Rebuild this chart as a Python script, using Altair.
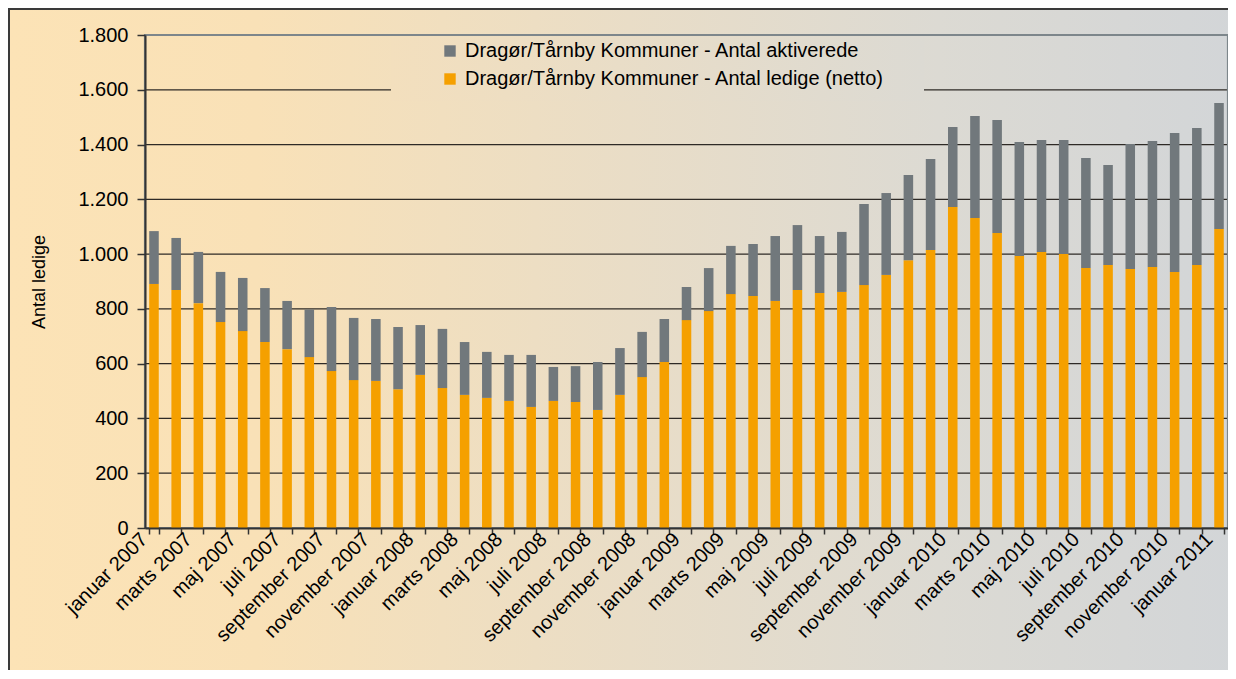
import altair as alt
import pandas as pd

# ---- data ----
months_da = ["januar", "februar", "marts", "april", "maj", "juni", "juli",
             "august", "september", "oktober", "november", "december"]
categories = [f"{months_da[i % 12]} {2007 + i // 12}" for i in range(49)]

ledige = [891, 869, 821, 752, 719, 679, 653, 624, 573, 540, 537, 507,
          559, 511, 486, 475, 464, 442, 464, 460, 431, 486, 551, 606,
          759, 792, 854, 847, 829, 869, 858, 862, 887, 924, 978, 1015,
          1172, 1132, 1077, 993, 1008, 1000, 949, 960, 946, 953, 935, 960,
          1092]
aktiverede = [193, 190, 187, 183, 194, 197, 176, 174, 234, 227, 226, 227,
              182, 216, 193, 168, 168, 190, 124, 131, 175, 171, 165, 157,
              121, 157, 176, 190, 237, 237, 208, 219, 296, 299, 311, 332,
              292, 372, 413, 416, 409, 417, 402, 365, 456, 460, 507, 500,
              460]
grid_values = [200, 400, 600, 800, 1000, 1200, 1400, 1600]
y_ticks = [0, 200, 400, 600, 800, 1000, 1200, 1400, 1600, 1800]

name_akt = "Dragør/Tårnby Kommuner - Antal aktiverede"
name_led = "Dragør/Tårnby Kommuner - Antal ledige (netto)"

rows = []
for c, l, a in zip(categories, ledige, aktiverede):
    rows.append({"maaned": c, "serie": name_led, "antal": l, "rank": 0})
    rows.append({"maaned": c, "serie": name_akt, "antal": a, "rank": 1})
df = pd.DataFrame(rows)

# ---- layout ----
W, H = 1083, 493
PAD_L, PAD_T, PAD_R, PAD_B = 137, 27, 0, 142
FONT = "Liberation Sans"

bg_stops = [(0.0, "#FCE3B6"), (0.2, "#F9E1B7"), (0.5, "#E9DDC7"),
            (0.75, "#DCDAD3"), (1.0, "#D2D5D8")]


def hex2rgb(h):
    return tuple(int(h[i:i + 2], 16) for i in (1, 3, 5))


def color_at(f):
    for (f0, c0), (f1, c1) in zip(bg_stops, bg_stops[1:]):
        if f0 <= f <= f1:
            t = (f - f0) / (f1 - f0)
            a, b = hex2rgb(c0), hex2rgb(c1)
            return "#%02x%02x%02x" % tuple(round(a[i] + (b[i] - a[i]) * t) for i in range(3))
    return bg_stops[-1][1]


total_w = PAD_L + W + PAD_R
# legend cover box (plot coords)
cov_x0, cov_x1, cov_y0, cov_y1 = 246, 779, 3, 66
f0 = (cov_x0 + PAD_L) / total_w
f1 = (cov_x1 + PAD_L) / total_w
cov_stops = [alt.GradientStop(offset=0, color=color_at(f0))]
for f, c in bg_stops:
    if f0 < f < f1:
        cov_stops.append(alt.GradientStop(offset=(f - f0) / (f1 - f0), color=c))
cov_stops.append(alt.GradientStop(offset=1, color=color_at(f1)))

x_scale = alt.Scale(domain=categories, paddingInner=0.57, paddingOuter=0.19)
y_scale = alt.Scale(domain=[0, 1800], nice=False)

y_axis = alt.Axis(
    values=y_ticks, grid=False,
    labelExpr="replace(format(datum.value, ','), ',', '.')",
    labelFont=FONT, labelFontSize=20, labelColor="#000000",
    labelPadding=9, tickSize=8, tickColor="#333333", tickWidth=1.5,
    domainColor="#333333", domainWidth=2,
    titleFont=FONT, titleFontSize=18, titleFontWeight="normal",
    titleColor="#000000", titlePadding=29, zindex=2)

background = alt.Chart(pd.DataFrame({"a": [0]})).mark_rect(
    fill=alt.Gradient(gradient="linear", x1=0, x2=1, y1=0, y2=0,
                      stops=[alt.GradientStop(offset=o, color=c) for o, c in bg_stops]),
    stroke="#3a3a3a", strokeWidth=2,
).encode(
    x=alt.value(-PAD_L + 1), x2=alt.value(W + PAD_R + 20),
    y=alt.value(-PAD_T + 1), y2=alt.value(H + PAD_B + 20),
)

grid = alt.Chart(pd.DataFrame({"v": grid_values})).mark_rule(
    color="#2e2a26", strokeWidth=1.2
).encode(y=alt.Y("v:Q", scale=y_scale, axis=y_axis, title="Antal ledige"))

cover = alt.Chart(pd.DataFrame({"a": [0]})).mark_rect(
    fill=alt.Gradient(gradient="linear", x1=0, x2=1, y1=0, y2=0, stops=cov_stops),
).encode(
    x=alt.value(cov_x0), x2=alt.value(cov_x1),
    y=alt.value(cov_y0), y2=alt.value(cov_y1),
)

bars = alt.Chart(df).mark_bar().encode(
    x=alt.X("maaned:N", scale=x_scale, sort=categories, title=None,
            axis=alt.Axis(
                labelAngle=-45, labelAlign="right", labelBaseline="middle",
                labelExpr="indexof(['januar','marts','maj','juli','september','november'], split(datum.label, ' ')[0]) >= 0 ? datum.label : ''",
                labelFont=FONT, labelFontSize=20, labelColor="#000000",
                labelOffset=-10, labelPadding=2, labelOverlap=False,
                tickBand="extent", tickSize=6, tickColor="#333333", tickWidth=1.5,
                domainColor="#333333", domainWidth=2, zindex=2)),
    y=alt.Y("antal:Q", stack="zero", scale=y_scale, title="Antal ledige",
            axis=y_axis),
    color=alt.Color("serie:N",
                    scale=alt.Scale(domain=[name_akt, name_led],
                                    range=["#71787C", "#F5A000"]),
                    legend=alt.Legend(
                        title=None, orient="none", legendX=295, legendY=6,
                        symbolType="square", symbolSize=130, symbolStrokeWidth=0,
                        labelFont=FONT, labelFontSize=20, labelColor="#000000",
                        labelOffset=5, rowPadding=8, padding=0, labelLimit=600)),
    order=alt.Order("rank:Q", sort="ascending"),
)

border = alt.Chart(pd.DataFrame({"a": [0]})).mark_rect(
    fillOpacity=0, stroke="#7D868B", strokeWidth=2.2,
).encode(x=alt.value(0), x2=alt.value(W), y=alt.value(0), y2=alt.value(H))

chart = alt.layer(background, grid, cover, border, bars).properties(
    width=W, height=H,
    autosize=alt.AutoSizeParams(type="none"),
    padding={"left": PAD_L, "top": PAD_T, "right": PAD_R, "bottom": PAD_B},
).configure_view(strokeWidth=0).configure(background="#FCE3B6")

chart.save("out.html", embed_options={"renderer": "svg", "actions": False})
